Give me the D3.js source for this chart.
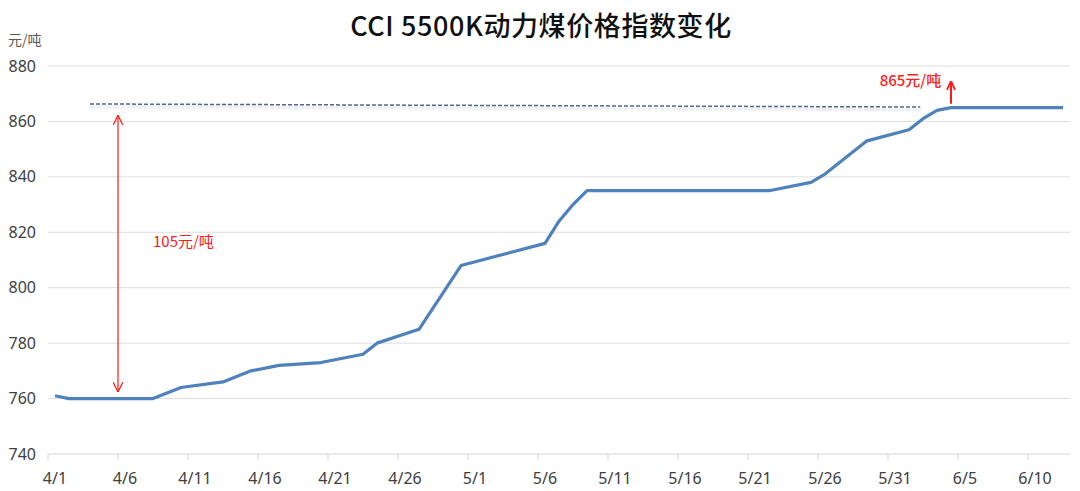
<!DOCTYPE html>
<html lang="zh">
<head>
<meta charset="UTF-8" />
<title>CCI 5500K动力煤价格指数变化</title>
<script src="https://d3js.org/d3.v7.min.js"></script>
<style>
  html, body { margin: 0; padding: 0; background: #fff; }
  svg { display: block; }
  .tick-label { font-family: "Noto Sans", sans-serif; font-size: 16px; fill: #404040; }
  .note { font-family: "Noto Sans CJK SC", sans-serif; font-size: 15px; fill: #ff2020; }
</style>
</head>
<body>
<svg id="chart" width="1080" height="491"></svg>
<script>
// categories: every calendar day 4/1 .. 6/12
const fmt = d3.timeFormat("%-m/%-d");
const days = d3.timeDay.range(new Date(2021, 3, 1), new Date(2021, 5, 13)).map(fmt);

const priceDays = ["4/1", "4/2", "4/8", "4/10", "4/13", "4/15", "4/17", "4/20", "4/23", "4/24",
  "4/27", "4/30", "5/6", "5/7", "5/8", "5/9", "5/22", "5/25", "5/26", "5/29",
  "6/1", "6/2", "6/3", "6/4", "6/12"];
const priceValues = [761, 760, 760, 764, 766, 770, 772, 773, 776, 780,
  785, 808, 816, 824, 830, 835, 835, 838, 841, 853,
  857, 861, 864, 865, 865];

const xTickLabels = ["4/1", "4/6", "4/11", "4/16", "4/21", "4/26", "5/1", "5/6",
  "5/11", "5/16", "5/21", "5/26", "5/31", "6/5", "6/10"];
const yTicks = [740, 760, 780, 800, 820, 840, 860, 880];

const svg = d3.select("#chart");

const x = d3.scaleBand().domain(days).range([48, 1070]).padding(0);
const y = d3.scaleLinear().domain([740, 880]).range([454, 66]);
const bw = x.bandwidth();
const cx = (d, off = 0.5) => x(d) + bw * off;

// title
svg.append("text")
  .attr("x", 541).attr("y", 36)
  .attr("text-anchor", "middle")
  .style("font-family", "'Noto Sans CJK SC', sans-serif")
  .style("font-size", "27px")
  .style("font-weight", 500)
  .style("letter-spacing", "0.6px")
  .style("fill", "#111")
  .text("CCI 5500K动力煤价格指数变化");

// unit
svg.append("text")
  .attr("x", 8).attr("y", 45)
  .style("font-family", "'Noto Sans CJK SC', sans-serif")
  .style("font-size", "14px")
  .style("fill", "#595959")
  .text("元/吨");

// gridlines
svg.append("g")
  .selectAll("line")
  .data(yTicks.slice(1))
  .join("line")
  .attr("x1", 48).attr("x2", 1070)
  .attr("y1", d => y(d)).attr("y2", d => y(d))
  .attr("stroke", "#dedede").attr("stroke-width", 1);

// y labels
svg.append("g")
  .selectAll("text")
  .data(yTicks)
  .join("text")
  .attr("class", "tick-label")
  .attr("x", 36).attr("y", d => y(d))
  .attr("dy", "0.35em")
  .attr("text-anchor", "end")
  .text(d => d);

// x axis line and ticks
svg.append("line")
  .attr("x1", 48).attr("x2", 1070)
  .attr("y1", y(740)).attr("y2", y(740))
  .attr("stroke", "#d4d4d4").attr("stroke-width", 1);

svg.append("g")
  .selectAll("line")
  .data(xTickLabels)
  .join("line")
  .attr("x1", d => x(d)).attr("x2", d => x(d))
  .attr("y1", y(740)).attr("y2", y(740) + 6)
  .attr("stroke", "#d4d4d4");

svg.append("g")
  .selectAll("text")
  .data(xTickLabels)
  .join("text")
  .attr("class", "tick-label")
  .attr("x", d => cx(d)).attr("y", 484)
  .attr("text-anchor", "middle")
  .text(d => d);

// defs: arrowheads and shadow
const defs = svg.append("defs");
defs.append("marker")
  .attr("id", "arrow")
  .attr("viewBox", "0 0 10 10")
  .attr("refX", 10).attr("refY", 5)
  .attr("markerWidth", 10).attr("markerHeight", 10)
  .attr("markerUnits", "userSpaceOnUse")
  .attr("orient", "auto-start-reverse")
  .append("path")
  .attr("d", "M0,0 L10,5 L0,10")
  .attr("fill", "none").attr("stroke", "#ff1a1a").attr("stroke-width", 1.3);
defs.append("marker")
  .attr("id", "arrow2")
  .attr("viewBox", "0 0 10 10")
  .attr("refX", 10).attr("refY", 5)
  .attr("markerWidth", 10).attr("markerHeight", 10)
  .attr("markerUnits", "userSpaceOnUse")
  .attr("orient", "auto")
  .append("path")
  .attr("d", "M1,1 L10,5 L1,9")
  .attr("fill", "none").attr("stroke", "#ff1a1a").attr("stroke-width", 1.8);
defs.append("filter")
  .attr("id", "shadow")
  .attr("x", "-5%").attr("y", "-300%").attr("width", "110%").attr("height", "700%")
  .append("feDropShadow")
  .attr("dx", 0).attr("dy", 2.5).attr("stdDeviation", 1.5)
  .attr("flood-color", "#8f9db3").attr("flood-opacity", 0.6);

// dashed reference line at the starting level + 105
svg.append("line")
  .attr("x1", cx("4/4", 0)).attr("y1", y(866.3))
  .attr("x2", cx("6/2", 0.3)).attr("y2", y(865.2))
  .attr("stroke", "#55698a").attr("stroke-width", 1.5)
  .attr("stroke-dasharray", "4,2")
  .attr("filter", "url(#shadow)");

// price line
const series = priceDays.map((d, i) => ({ day: d, v: priceValues[i] }));
svg.append("path")
  .datum(series)
  .attr("fill", "none")
  .attr("stroke", "#4f81bd")
  .attr("stroke-width", 3.2)
  .attr("stroke-linejoin", "round")
  .attr("d", d3.line().x(d => cx(d.day)).y(d => y(d.v)));

// 105元/吨 double arrow
svg.append("line")
  .attr("x1", x("4/6")).attr("x2", x("4/6"))
  .attr("y1", y(862.2)).attr("y2", y(762.4))
  .attr("stroke", "#ff1a1a").attr("stroke-width", 1.2)
  .attr("marker-start", "url(#arrow)")
  .attr("marker-end", "url(#arrow)");

svg.append("text")
  .attr("class", "note")
  .attr("x", cx("4/8", 0.5)).attr("y", y(814.8))
  .text("105元/吨");

// 865元/吨 arrow
svg.append("line")
  .attr("x1", cx("6/4")).attr("x2", cx("6/4"))
  .attr("y1", y(866.4)).attr("y2", y(874.6))
  .attr("stroke", "#ff1a1a").attr("stroke-width", 2)
  .attr("marker-end", "url(#arrow2)");

svg.append("text")
  .attr("class", "note")
  .attr("x", cx("6/1", 0.6)).attr("y", y(872.9))
  .attr("text-anchor", "middle")
  .style("font-weight", 500)
  .text("865元/吨");
</script>
</body>
</html>
